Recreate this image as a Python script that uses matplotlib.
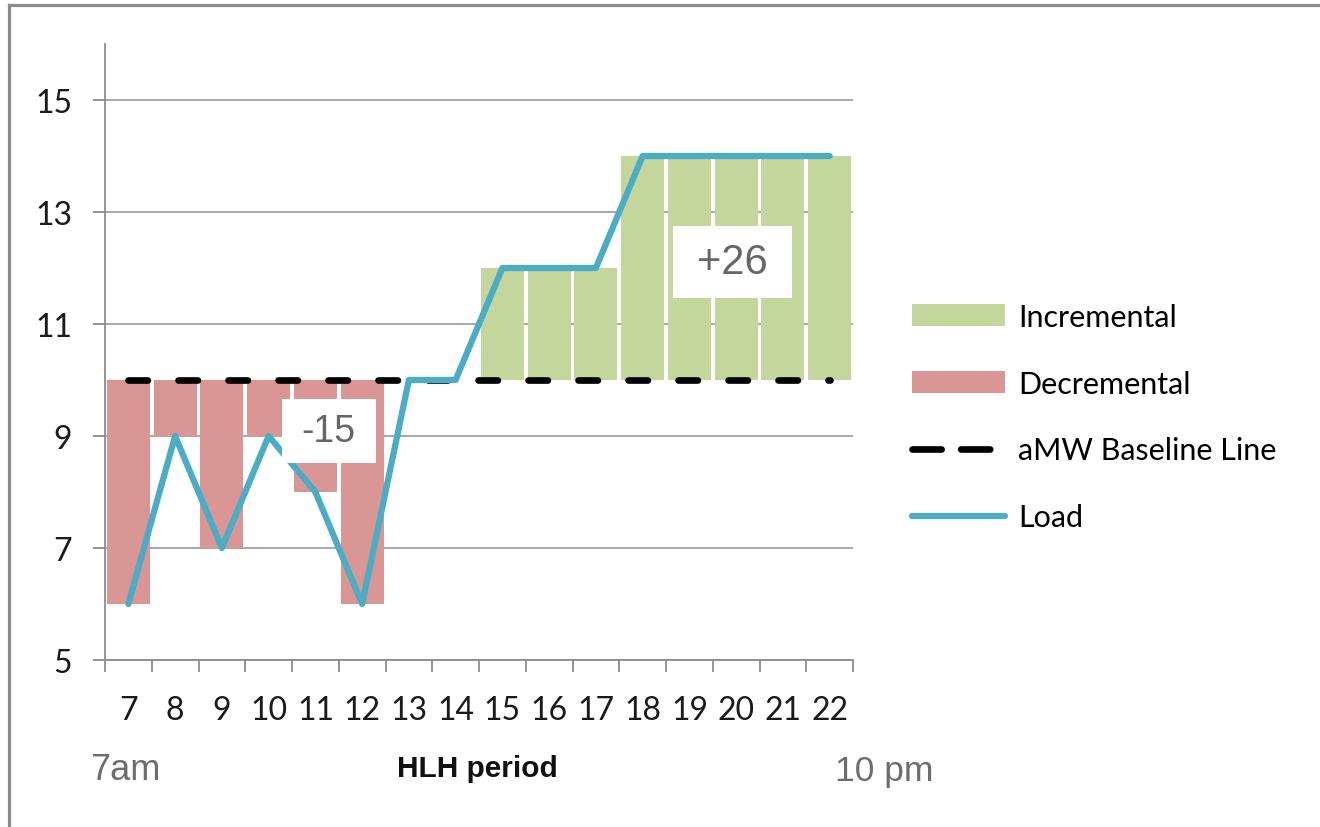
import matplotlib
matplotlib.use('Agg')
import matplotlib.pyplot as plt
from matplotlib.patches import Rectangle, Patch
from matplotlib.lines import Line2D
from matplotlib.ticker import FixedLocator
import numpy as np

# ---- data ----
hours = [7, 8, 9, 10, 11, 12, 13, 14, 15, 16, 17, 18, 19, 20, 21, 22]
load = [6, 9, 7, 9, 8, 6, 10, 10, 12, 12, 12, 14, 14, 14, 14, 14]
baseline = [10] * 16
y_ticks = [5, 7, 9, 11, 13, 15]
series_labels = ['Incremental', 'Decremental', 'aMW Baseline Line', 'Load']

plt.rcParams['lines.scale_dashes'] = False

W, H = 1320, 828
fig = plt.figure(figsize=(W / 100, H / 100), dpi=100)
fig.patch.set_facecolor('white')

# outer frame (only top & left edges are visible in the picture)
frame_kw = dict(transform=fig.transFigure, color='#8c8c8c', linewidth=2.3, solid_capstyle='projecting')
fig.lines.append(Line2D([9 / W, 1.05], [1 - 5.5 / H, 1 - 5.5 / H], **frame_kw))
fig.lines.append(Line2D([9 / W, 9 / W], [1 - 5.5 / H, -0.05], **frame_kw))

ax = fig.add_axes([105 / W, 1 - 661 / H, 748 / W, 616 / H])

x = np.arange(len(hours))
load_a = np.array(load, dtype=float)
base_a = np.array(baseline, dtype=float)
inc = np.maximum(load_a - base_a, 0)
dec = np.minimum(load_a - base_a, 0)

ax.bar(x, inc, bottom=base_a, width=0.92, color='#C3D69B', linewidth=0, zorder=2)
ax.bar(x, dec, bottom=base_a, width=0.92, color='#D99694', linewidth=0, zorder=2)
ax.plot(x, baseline, color='black', lw=4.8, dashes=(14, 22), dash_capstyle='round', zorder=3)
ax.plot(x, load, color='#4BACC6', lw=4.5, solid_capstyle='round', solid_joinstyle='round', zorder=4)

ax.set_xlim(-0.5, len(hours) - 0.5)
ax.set_ylim(5, 16)

# axes styling
for s in ['top', 'right']:
    ax.spines[s].set_visible(False)
for s in ['left', 'bottom']:
    ax.spines[s].set_color('#8c8c8c')
    ax.spines[s].set_linewidth(1.3)

ax.set_yticks(y_ticks)
ax.set_yticklabels([str(v) for v in y_ticks], fontfamily='Lato', fontsize=23, color='#1a1a1a')
ax.tick_params(axis='y', direction='out', length=8.6, width=1.3, color='#8c8c8c', pad=15)

ax.set_xticks(x)
ax.set_xticklabels([str(h) for h in hours], fontfamily='Lato', fontsize=23, color='#1a1a1a')
ax.tick_params(axis='x', which='major', length=0, pad=25)
ax.xaxis.set_minor_locator(FixedLocator(np.arange(-0.5, len(hours), 1.0)))
ax.tick_params(axis='x', which='minor', direction='out', length=8.4, width=1.3, color='#8c8c8c')

ax.yaxis.grid(True, color='#a0a0a0', linewidth=1.3)
ax.set_axisbelow(True)

# total boxes
dec_total = int(dec.sum())
inc_total = int(inc.sum())
ax.add_patch(Rectangle((3.29, 8.52), 2.01, 1.14, facecolor='white', edgecolor='none', zorder=5))
ax.text(4.29, 9.09, f'{dec_total}', ha='center', va='center', fontsize=27,
        fontfamily='Liberation Sans', color='#666666', zorder=6)
ax.add_patch(Rectangle((11.65, 11.46), 2.545, 1.29, facecolor='white', edgecolor='none', zorder=5))
ax.text(12.92, 12.1, f'+{inc_total}', ha='center', va='center', fontsize=30,
        fontfamily='Liberation Sans', color='#666666', zorder=6)

# legend
handles = [Patch(facecolor='#C3D69B', edgecolor='none'),
           Patch(facecolor='#D99694', edgecolor='none'),
           Line2D([], [], color='black', lw=4.8, dashes=(21, 14), dash_capstyle='round'),
           Line2D([], [], color='#4BACC6', lw=4.5, solid_capstyle='round')]
fig.legend(handles, series_labels, loc='center left', bbox_to_anchor=(912 / W, 1 - 418 / H),
           frameon=False, borderpad=0, borderaxespad=0, handlelength=3.05, handletextpad=0.43,
           labelspacing=1.27, prop={'family': 'Lato', 'size': 22})

# bottom texts
fig.text(90 / W, 1 - 780 / H, '7am', ha='left', va='baseline', fontsize=26,
         fontfamily='Liberation Sans', color='#6d6d6d')
fig.text(477 / W, 1 - 777 / H, 'HLH period', ha='center', va='baseline', fontsize=21.5,
         fontfamily='Liberation Sans', fontweight='bold', color='#111111')
fig.text(835 / W, 1 - 781 / H, '10 pm', ha='left', va='baseline', fontsize=25.5,
         fontfamily='Liberation Sans', color='#6d6d6d')

fig.savefig('out.png', dpi=100, facecolor='white')
